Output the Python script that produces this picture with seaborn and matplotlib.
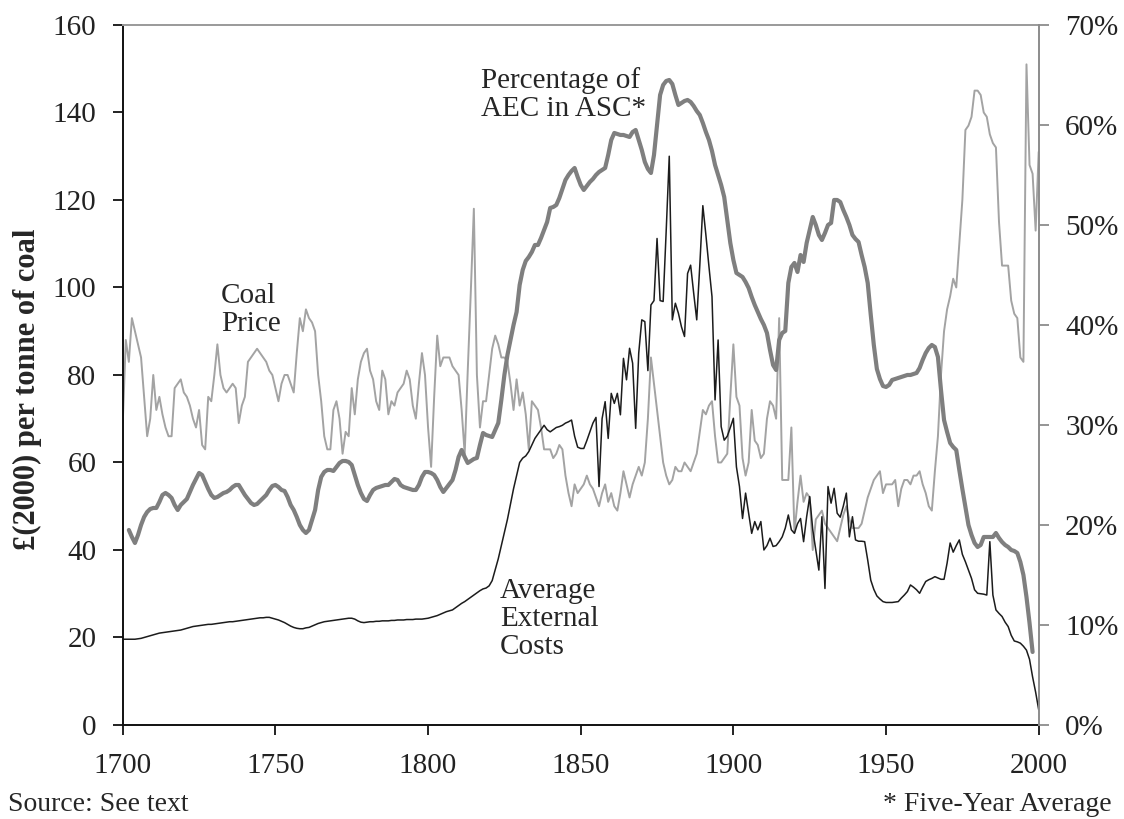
import pandas as pd
import matplotlib
matplotlib.use('Agg')
import matplotlib.pyplot as plt
import seaborn as sns
from matplotlib.ticker import FuncFormatter

sns.set_style('white')
plt.rcParams['font.family'] = ['Liberation Serif', 'DejaVu Serif']

# coal price and average external costs, one value per year 1700-2000
years = list(range(1700, 2001))

coal_price = [
    69, 88, 83, 93, 90, 87, 84, 75, 66, 70,    # 1700s
    80, 72, 75, 71, 68, 66, 66, 77, 78, 79,    # 1710s
    76, 75, 73, 70, 68, 72, 64, 63, 75, 74,    # 1720s
    80, 87, 80, 77, 76, 77, 78, 77, 69, 73,    # 1730s
    75, 83, 84, 85, 86, 85, 84, 83, 81, 80,    # 1740s
    77, 74, 78, 80, 80, 78, 76, 85, 93, 90,    # 1750s
    95, 93, 92, 90, 80, 74, 66, 63, 63, 72,    # 1760s
    74, 70, 62, 67, 66, 77, 71, 79, 83, 85,    # 1770s
    86, 81, 79, 74, 72, 81, 79, 71, 74, 73,    # 1780s
    76, 77, 78, 81, 79, 73, 70, 78, 85, 80,    # 1790s
    68, 59, 75, 89, 82, 84, 84, 84, 82, 81,    # 1800s
    80, 72, 62, 81, 99, 118, 80, 68, 74, 74,   # 1810s
    80, 86, 89, 87, 84, 84, 83, 78, 72, 79,    # 1820s
    73, 76, 71, 63, 74, 73, 72, 68, 63, 63,    # 1830s
    63, 61, 62, 64, 63, 57, 53, 50, 55, 53,    # 1840s
    54, 55, 57, 55, 54, 52, 50, 53, 55, 51,    # 1850s
    53, 50, 49, 53, 58, 55, 52, 55, 57, 59,    # 1860s
    57, 60, 70, 84, 78, 72, 66, 60, 57, 55,    # 1870s
    56, 59, 58, 58, 60, 59, 58, 60, 62, 67,    # 1880s
    72, 71, 73, 74, 66, 60, 60, 61, 62, 75,    # 1890s
    87, 75, 73, 61, 57, 60, 72, 65, 64, 61,    # 1900s
    62, 70, 74, 73, 70, 93, 56, 56, 56, 68,    # 1910s
    44, 51, 57, 51, 53, 52, 40, 47, 48, 49,    # 1920s
    46, 45, 44, 43, 42, 45, 48, 50, 47, 45,    # 1930s
    45, 45, 46, 49, 52, 54, 56, 57, 58, 53,    # 1940s
    55, 55, 55, 56, 50, 54, 56, 56, 55, 57,    # 1950s
    57, 58, 55, 53, 50, 49, 58, 66, 80, 90,    # 1960s
    95, 98, 102, 100, 110, 120, 136, 137, 139, 145,   # 1970s
    145, 144, 140, 139, 135, 133, 132, 115, 105, 105,  # 1980s
    105, 97, 94, 93, 84, 83, 151, 128, 126, 113,       # 1990s
    131,                                               # 2000
]

external_costs = [
    19.6, 19.6, 19.6, 19.6, 19.6, 19.7, 19.8, 20.0, 20.2, 20.4,   # 1700s
    20.6, 20.8, 21.0, 21.1, 21.2, 21.3, 21.4, 21.5, 21.6, 21.7,   # 1710s
    21.9, 22.1, 22.3, 22.5, 22.6, 22.7, 22.8, 22.9, 23.0, 23.0,   # 1720s
    23.1, 23.2, 23.3, 23.4, 23.5, 23.6, 23.6, 23.7, 23.8, 23.9,   # 1730s
    24.0, 24.1, 24.2, 24.3, 24.4, 24.5, 24.5, 24.6, 24.6, 24.4,   # 1740s
    24.2, 24.0, 23.7, 23.4, 23.0, 22.6, 22.3, 22.1, 22.0, 22.0,   # 1750s
    22.2, 22.3, 22.6, 22.9, 23.2, 23.4, 23.6, 23.7, 23.8, 23.9,   # 1760s
    24.0, 24.1, 24.2, 24.3, 24.4, 24.4, 24.2, 23.8, 23.5, 23.4,   # 1770s
    23.5, 23.6, 23.6, 23.7, 23.7, 23.8, 23.8, 23.8, 23.9, 23.9,   # 1780s
    24.0, 24.0, 24.0, 24.1, 24.1, 24.1, 24.2, 24.2, 24.2, 24.3,   # 1790s
    24.4, 24.6, 24.8, 25.0, 25.3, 25.6, 25.9, 26.1, 26.3, 26.8,   # 1800s
    27.3, 27.8, 28.2, 28.7, 29.2, 29.7, 30.2, 30.7, 31.1, 31.3,   # 1810s
    31.8, 33.0, 35.5, 38.0, 41.0, 44.0, 47.0, 50.5, 54.0, 57.0,   # 1820s
    60.0, 61.0, 61.5, 62.5, 64.0, 65.5, 66.5, 67.5, 68.5, 67.5,   # 1830s
    67.0, 67.5, 68.0, 68.2, 68.5, 69.0, 69.3, 69.7, 66.0, 63.5,   # 1840s
    63.2, 63.2, 65.0, 67.0, 69.0, 70.3, 54.5, 70.0, 73.9, 65.5,   # 1850s
    75.8, 73.5, 75.8, 70.9, 83.8, 78.9, 86.1, 82.7, 67.8, 85.0,   # 1860s
    92.6, 92.2, 81.0, 96.0, 97.0, 111.2, 97.0, 96.8, 113.0, 130.0,  # 1870s
    92.6, 96.4, 94.1, 91.0, 88.8, 103.2, 105.1, 98.7, 92.6, 105.0,  # 1880s
    118.7, 112.0, 104.8, 97.9, 74.3, 88.0, 68.2, 65.1, 66.0, 68.0,  # 1890s
    70.1, 59.0, 54.5, 47.2, 53.0, 48.4, 43.8, 46.5, 44.6, 46.5,   # 1900s
    40.0, 41.0, 42.7, 40.8, 41.0, 41.9, 43.0, 45.0, 48.0, 44.6,   # 1910s
    43.8, 46.0, 47.2, 41.9, 47.6, 52.2, 44.6, 40.0, 35.4, 47.6,   # 1920s
    31.2, 54.5, 50.7, 54.1, 48.4, 47.5, 50.0, 53.0, 43.0, 47.6,   # 1930s
    42.3, 42.0, 42.0, 41.9, 37.7, 33.1, 31.0, 29.5, 28.8, 28.2,   # 1940s
    28.0, 28.0, 28.0, 28.1, 28.2, 29.0, 29.7, 30.5, 32.0, 31.5,   # 1950s
    30.9, 30.1, 31.5, 32.8, 33.2, 33.5, 33.9, 33.6, 33.3, 33.3,   # 1960s
    37.0, 41.6, 39.5, 41.0, 42.3, 39.0, 37.3, 35.4, 33.5, 30.9,   # 1970s
    30.1, 30.0, 29.9, 29.7, 41.9, 29.7, 26.3, 25.5, 24.8, 23.5,   # 1980s
    22.5, 20.5, 19.2, 19.0, 18.7, 18.0, 17.1, 15.0, 11.0, 7.5,    # 1990s
    3.5,                                                          # 2000
]

# five-year average share of AEC in ASC (%), 1702-1998
share_years = list(range(1702, 1999))
aec_share = [
    19.5, 18.8, 18.2, 19.0, 20.0, 20.8, 21.3, 21.6,               # 1702-09
    21.7, 21.7, 22.3, 23.0, 23.2, 23.0, 22.7, 22.0, 21.5, 22.0,   # 1710s
    22.3, 22.6, 23.3, 24.0, 24.6, 25.2, 25.0, 24.3, 23.6, 23.0,   # 1720s
    22.7, 22.8, 23.0, 23.2, 23.3, 23.5, 23.8, 24.0, 24.0, 23.5,   # 1730s
    23.0, 22.6, 22.2, 22.0, 22.1, 22.4, 22.7, 23.0, 23.5, 23.9,   # 1740s
    24.0, 23.8, 23.5, 23.4, 22.8, 22.0, 21.5, 20.8, 20.0, 19.5,   # 1750s
    19.2, 19.5, 20.5, 21.5, 23.5, 24.8, 25.3, 25.5, 25.5, 25.4,   # 1760s
    25.8, 26.2, 26.4, 26.4, 26.3, 26.0, 25.0, 24.0, 23.2, 22.6,   # 1770s
    22.4, 23.0, 23.5, 23.7, 23.8, 23.9, 24.0, 24.0, 24.3, 24.6,   # 1780s
    24.5, 24.0, 23.8, 23.7, 23.6, 23.5, 23.5, 24.0, 24.8, 25.3,   # 1790s
    25.3, 25.2, 25.0, 24.5, 23.8, 23.3, 23.7, 24.1, 24.5, 25.5,   # 1800s
    26.8, 27.5, 26.8, 26.2, 26.4, 26.6, 26.7, 28.0, 29.2, 29.0,   # 1810s
    28.9, 28.8, 29.5, 30.2, 32.5, 35.0, 37.0, 38.5, 40.0, 41.3,   # 1820s
    44.0, 45.5, 46.4, 46.8, 47.3, 48.0, 48.0, 48.7, 49.5, 50.3,   # 1830s
    51.7, 51.8, 52.0, 52.7, 53.6, 54.5, 55.0, 55.4, 55.7, 54.8,   # 1840s
    54.0, 53.5, 53.9, 54.3, 54.6, 55.0, 55.3, 55.5, 55.7, 57.0,   # 1850s
    58.5, 59.2, 59.1, 59.0, 59.0, 58.9, 58.8, 59.3, 59.5, 58.5,   # 1860s
    57.5, 56.3, 55.6, 55.2, 57.0, 60.0, 63.0, 64.0, 64.4, 64.5,   # 1870s
    64.1, 63.0, 62.0, 62.2, 62.4, 62.5, 62.3, 61.9, 61.4, 61.0,   # 1880s
    60.2, 59.3, 58.5, 57.4, 56.0, 55.0, 54.0, 52.8, 50.5, 48.2,   # 1890s
    46.5, 45.2, 45.0, 44.8, 44.3, 43.7, 42.8, 42.0, 41.3, 40.6,   # 1900s
    40.0, 39.2, 37.5, 36.0, 35.5, 38.5, 39.2, 39.4, 44.2, 45.8,   # 1910s
    46.2, 45.3, 47.0, 46.3, 48.2, 49.5, 50.8, 50.0, 49.0, 48.5,   # 1920s
    49.2, 50.0, 50.2, 52.5, 52.5, 52.3, 51.5, 50.8, 50.0, 49.0,   # 1930s
    48.6, 48.3, 47.0, 45.8, 44.2, 41.0, 38.0, 35.6, 34.6, 33.9,   # 1940s
    33.8, 34.0, 34.5, 34.6, 34.7, 34.8, 34.9, 35.0, 35.0, 35.1,   # 1950s
    35.2, 35.7, 36.5, 37.2, 37.7, 38.0, 37.8, 36.8, 33.5, 30.5,   # 1960s
    29.3, 28.2, 27.8, 27.5, 25.5, 23.6, 21.8, 20.0, 19.0, 18.2,   # 1970s
    17.8, 18.0, 18.8, 18.8, 18.8, 18.8, 19.2, 18.7, 18.3, 18.0,   # 1980s
    17.8, 17.5, 17.4, 17.2, 16.3, 15.0, 12.8, 10.2, 7.3,          # 1990-98
]

df = pd.DataFrame({'year': years, 'coal': coal_price, 'aec': external_costs})
share = pd.DataFrame({'year': share_years, 'pct': aec_share})

fig = plt.figure(figsize=(11.24, 8.19), dpi=100)
ax = fig.add_axes([0.1092, 0.1148, 0.8149, 0.8547])
ax2 = ax.twinx()

sns.lineplot(data=df, x='year', y='coal', ax=ax, color='#a3a3a3', linewidth=1.4)
sns.lineplot(data=df, x='year', y='aec', ax=ax, color='#1c1c1c', linewidth=1.1)
sns.lineplot(data=share, x='year', y='pct', ax=ax2, color='#7f7f7f', linewidth=3.0)

ax.set_xlim(1700, 2000)
ax.set_ylim(0, 160)
ax2.set_ylim(0, 70)
ax.set_xticks(range(1700, 2001, 50))
ax.set_yticks(range(0, 161, 20))
ax2.set_yticks(range(0, 71, 10))
ax2.yaxis.set_major_formatter(FuncFormatter(lambda v, p: f'{v:.0f}%'))

ax.set_xlabel('')
ax2.set_ylabel('')
ax.set_ylabel('£(2000) per tonne of coal', fontsize=22, fontweight='bold')
ax.yaxis.set_label_coords(-0.088, 0.479)

# spines: dark left/bottom, grey top/right
for s in ['left', 'bottom']:
    ax.spines[s].set_color('#111111')
    ax.spines[s].set_linewidth(1.4)
ax.spines['top'].set_color('#9a9a9a')
ax.spines['top'].set_linewidth(1.4)
ax.spines['right'].set_visible(False)
for s in ['left', 'bottom', 'top']:
    ax2.spines[s].set_visible(False)
ax2.spines['right'].set_color('#8c8c8c')
ax2.spines['right'].set_linewidth(1.4)

ax.tick_params(axis='x', bottom=True, direction='out', length=7, width=1.3,
               color='#111111', labelsize=21, labelcolor='#222222', pad=13)
ax.tick_params(axis='y', left=True, direction='out', length=7, width=1.3,
               color='#111111', labelsize=21, labelcolor='#222222', pad=12)
ax2.tick_params(axis='y', right=True, direction='out', length=7, width=1.3,
                color='#8c8c8c', labelsize=21, labelcolor='#222222', pad=12)

# labels on the lines
ax.text(1732.2, 101, 'Coal\nPrice', fontsize=21, va='top', linespacing=1.1)
ax.text(1817.4, 150.5, 'Percentage of\nAEC in ASC*', fontsize=21, va='top', linespacing=1.1)
ax.text(1823.6, 33.5, 'Average\nExternal\nCosts', fontsize=21, va='top', linespacing=1.1)

fig.text(0.007, 0.010, 'Source: See text', fontsize=20, va='baseline')
fig.text(0.989, 0.010, '* Five-Year Average', fontsize=20, va='baseline', ha='right')

fig.savefig('out.png', dpi=100)
